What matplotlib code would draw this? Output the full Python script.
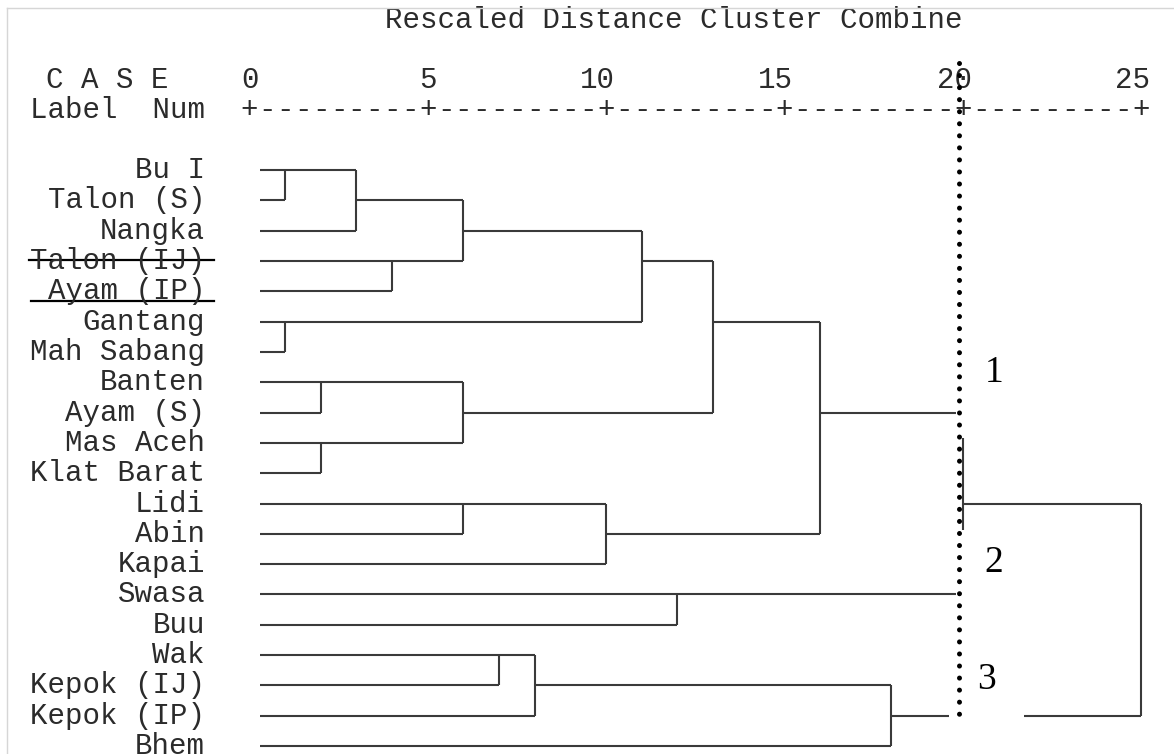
import matplotlib
matplotlib.use("Agg")
import matplotlib.pyplot as plt
from matplotlib.lines import Line2D
from matplotlib.patches import Rectangle

# --- data -----------------------------------------------------------------
LABELS = ["Bu I", "Talon (S)", "Nangka", "Talon (IJ)", "Ayam (IP)", "Gantang",
          "Mah Sabang", "Banten", "Ayam (S)", "Mas Aceh", "Klat Barat", "Lidi",
          "Abin", "Kapai", "Swasa", "Buu", "Wak", "Kepok (IJ)", "Kepok (IP)", "Bhem"]

# merge k creates node 20 + k (leaves are 0..19)
MERGE_LEFT = [0, 20, 3, 21, 5, 23, 7, 9, 26, 25, 11, 30, 29, 14, 16, 34, 35, 32, 37]
MERGE_RIGHT = [1, 2, 4, 22, 6, 24, 8, 10, 27, 28, 12, 13, 31, 15, 17, 18, 19, 33, 36]
MERGE_DIST = [1, 3, 4, 6, 1, 11, 2, 2, 6, 13, 6, 10, 16, 12, 7, 8, 18, 20, 25]

TICKS = [0, 5, 10, 15, 20, 25]
CUT_HEIGHT = 19.9
GROUP_NAMES = ["1", "2", "3"]
STRUCK_LABEL = "Talon (IJ)"
UNDERLINED_LABEL = "Ayam (IP)"

# --- layout ---------------------------------------------------------------
W, H = 1174, 754
X0, XS = 249.5, 35.66      # pixel of distance 0, pixels per unit
Y0, YS = 170, 30.32        # pixel of first row, pixels per row
LEAF_START = 0.3
MONO = "Liberation Mono"
TXT = "#2b2b2b"
LINE = "#3a3a3a"


def node_positions():
    xs = {i: LEAF_START for i in range(len(LABELS))}
    rows = {i: float(i) for i in range(len(LABELS))}
    for k, (a, b, d) in enumerate(zip(MERGE_LEFT, MERGE_RIGHT, MERGE_DIST)):
        node = len(LABELS) + k
        xs[node] = d
        rows[node] = float(int((rows[a] + rows[b]) // 2))
    return xs, rows


def draw_tree(ax):
    xs, rows = node_positions()
    for a, b, d in zip(MERGE_LEFT, MERGE_RIGHT, MERGE_DIST):
        ax.plot([xs[a], d], [rows[a], rows[a]], color=LINE, lw=1.5, zorder=2,
                solid_capstyle="butt")
        ax.plot([xs[b], d], [rows[b], rows[b]], color=LINE, lw=1.5, zorder=2,
                solid_capstyle="butt")
        ax.plot([d, d], [rows[a], rows[b]], color=LINE, lw=1.5, zorder=2,
                solid_capstyle="butt")

    # parts erased by hand around the cut line
    for x, y, w, h in [(19.8, 7.8, 0.6, 1.05), (19.8, 11.88, 0.6, 2.3),
                       (19.62, 17.7, 2.1, 0.6)]:
        ax.add_patch(Rectangle((x, y), w, h, facecolor="white",
                               edgecolor="none", zorder=3))


def draw_header(ax):
    ax.text((385 - X0) / XS, (20 - Y0) / YS, "Rescaled Distance Cluster Combine",
            family=MONO, fontsize=21, color=TXT, ha="left", va="center")
    ax.text((46 - X0) / XS, (80 - Y0) / YS, "C A S E", family=MONO,
            fontsize=21, color=TXT, ha="left", va="center")
    ax.text((205 - X0) / XS, (110 - Y0) / YS, "Label  Num", family=MONO,
            fontsize=21, color=TXT, ha="right", va="center")
    for t in TICKS:
        ax.text(t + 0.25, (80 - Y0) / YS, str(t), family=MONO, fontsize=21,
                color=TXT, ha="right", va="center")
    # +---------+ ruler, one character per half unit
    for i in range(TICKS[-1] * 2 + 1):
        ch = "+" if i % 10 == 0 else "-"
        ax.text(i * 0.5, (110 - Y0) / YS, ch, family=MONO, fontsize=21,
                color=TXT, ha="center", va="center")


def draw_labels(ax):
    for i, lab in enumerate(LABELS):
        ax.text((205 - X0) / XS, i, lab, family=MONO, fontsize=21, color=TXT,
                ha="right", va="center")
    x_a, x_b = (29 - X0) / XS, (214 - X0) / XS
    r = LABELS.index(STRUCK_LABEL)
    ax.plot([x_a, x_b], [r - 0.03, r - 0.03], color="black", lw=1.6)
    r = LABELS.index(UNDERLINED_LABEL)
    ax.plot([x_a + 0.05, x_b], [r + 0.32, r + 0.32], color="black", lw=1.6)


def draw_cut(ax):
    ax.plot([CUT_HEIGHT, CUT_HEIGHT], [(63 - Y0) / YS, 17.97], color="black",
            lw=3.6, linestyle=(0, (0.01, 2.4)), dash_capstyle="round", zorder=4)
    for name, (x, r) in zip(GROUP_NAMES, [(20.87, 6.7), (20.87, 12.96), (20.67, 16.8)]):
        ax.text(x, r, name, family="Liberation Serif", fontsize=27,
                color="black", ha="center", va="center")


def main():
    fig = plt.figure(figsize=(W / 100, H / 100), dpi=100)
    ax = fig.add_axes([0, 0, 1, 1])
    ax.set_xlim(-X0 / XS, (W - X0) / XS)
    ax.set_ylim((H - Y0) / YS, -Y0 / YS)
    ax.axis("off")

    draw_tree(ax)
    draw_header(ax)
    draw_labels(ax)
    draw_cut(ax)

    fig.add_artist(Line2D([7 / W, 1], [1 - 8 / H, 1 - 8 / H], color="#d6d6d6", lw=1))
    fig.add_artist(Line2D([7 / W, 7 / W], [0, 1 - 8 / H], color="#d6d6d6", lw=1))

    fig.savefig("out.png", dpi=100)
    plt.close(fig)


if __name__ == "__main__":
    main()
